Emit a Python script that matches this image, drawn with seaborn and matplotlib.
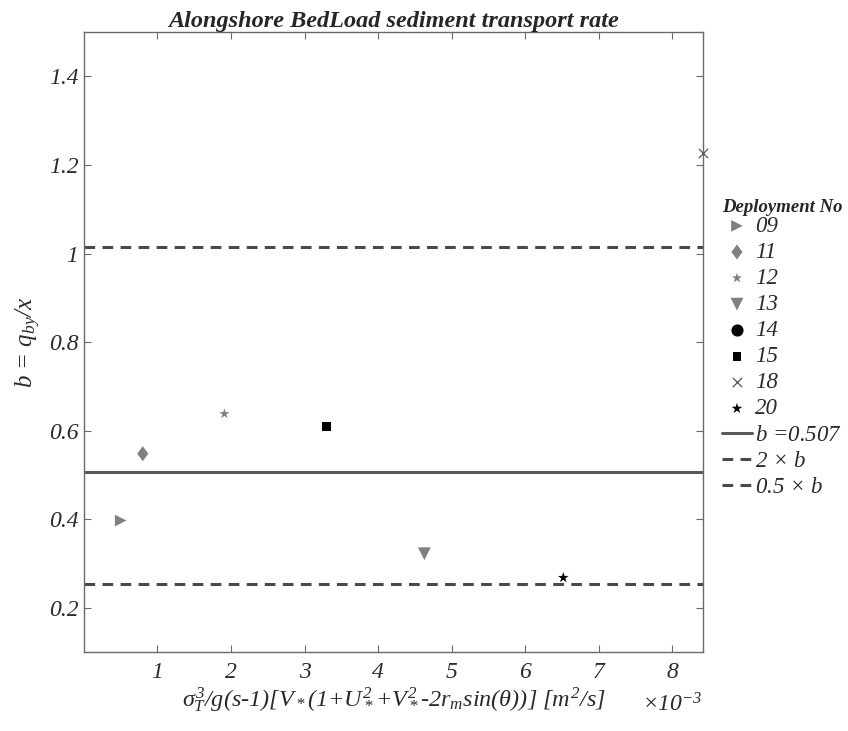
import matplotlib

matplotlib.use("Agg")

import numpy as np
import matplotlib.pyplot as plt
from matplotlib.ticker import FuncFormatter
import seaborn as sns

# Deployment data (x in m^2/s, y = b = q_by / x)
deployments = ["09", "11", "12", "13", "14", "15", "18", "20"]
x_vals = [0.50e-3, 0.80e-3, 1.91e-3, 4.63e-3, np.nan, 3.30e-3, 8.42e-3, 6.52e-3]
b_vals = [0.397, 0.548, 0.638, 0.322, np.nan, 0.609, 1.227, 0.268]

b_fit = 0.507
x_ticks = [1, 2, 3, 4, 5, 6, 7, 8]
y_ticks = [0.2, 0.4, 0.6, 0.8, 1.0, 1.2, 1.4]

# marker styling per deployment
diamond = [(0, 1), (0.75, 0), (0, -1), (-0.75, 0), (0, 1)]
markers = [">", diamond, "*", "v", "o", "s", "x", "*"]
colors = ["#808080", "#808080", "#808080", "#808080", "black", "black", "#555555", "black"]
sizes = [70, 115, 60, 85, 60, 38, 45, 65]

sns.set_style("ticks")
plt.rcParams["font.family"] = ["Liberation Serif", "DejaVu Serif"]
plt.rcParams["font.style"] = "italic"
plt.rcParams["mathtext.fontset"] = "custom"
plt.rcParams["mathtext.rm"] = "Liberation Serif:italic"
plt.rcParams["mathtext.it"] = "Liberation Serif:italic"
plt.rcParams["mathtext.bf"] = "Liberation Serif:bold:italic"

txt = "#2a2a2a"

fig = plt.figure(figsize=(8.48, 7.31), dpi=100)
ax = fig.add_axes([0.099, 0.108, 0.730, 0.848])

for name, xv, yv, m, c, s in zip(deployments, x_vals, b_vals, markers, colors, sizes):
    if np.isnan(xv):
        # no point inside the plotted range, but it is still listed in the legend
        ax.scatter([xv], [yv], marker=m, s=s, color=c, label=name)
        continue
    is_x = m == "x"
    sns.scatterplot(x=[xv], y=[yv], marker=m, s=s, color=c, edgecolor=c if is_x else "none",
                    linewidth=0.9 if is_x else 0, ax=ax, label=name, zorder=3, clip_on=False)

dash = (0, (3.5, 2.4))
ax.axhline(b_fit, color="#5a5a5a", lw=2.2, label=r"$b$ =0.507")
ax.axhline(2 * b_fit, color="#4a4a4a", lw=2.2, ls=dash, label=r"2 $\times$ $b$")
ax.axhline(0.5 * b_fit, color="#4a4a4a", lw=2.2, ls=dash, label=r"0.5 $\times$ $b$")

ax.set_xlim(0, 8.42e-3)
ax.set_ylim(0.1, 1.5)
ax.set_xticks([t * 1e-3 for t in x_ticks])
ax.set_yticks(y_ticks)
ax.xaxis.set_major_formatter(FuncFormatter(lambda v, p: f"{v * 1e3:g}"))
ax.yaxis.set_major_formatter(FuncFormatter(lambda v, p: f"{v:g}"))
ax.tick_params(direction="in", length=5, width=0.8, colors="#6a6a6a", labelcolor=txt,
               labelsize=17, top=True, right=True)
ax.tick_params(axis="x", pad=7)
ax.tick_params(axis="y", pad=4)

for sp in ax.spines.values():
    sp.set_visible(True)
    sp.set_color("#6a6a6a")
    sp.set_linewidth(1.0)

ax.set_title("Alongshore BedLoad sediment transport rate", fontsize=17.5, fontweight="bold",
             fontstyle="italic", pad=4)
ax.set_xlabel(r"$\sigma_T^3$/g(s-1)[$V_*$(1+$U_*^2$+$V_*^2$-2$r_m$sin($\theta$))] [$m^2$/s]",
              fontsize=17.5, color=txt, labelpad=2)
ax.set_ylabel(r"$b$ = $q_{by}$/$x$", fontsize=18, color=txt, labelpad=4)
ax.text(1.0, -0.066, r"$\times$10$^{-3}$", transform=ax.transAxes, fontsize=17, color=txt,
        ha="right", va="top")

leg = ax.legend(loc="center left", bbox_to_anchor=(1.016, 0.49), frameon=False, fontsize=16.5,
                title="Deployment No", handlelength=1.3, handletextpad=0.15, labelspacing=0.22,
                borderaxespad=0, markerscale=1.0)
leg.get_title().set_fontweight("bold")
leg.get_title().set_fontstyle("italic")
leg.get_title().set_fontsize(13.5)
leg._legend_box.align = "left"
leg._legend_box.sep = 0
for t in leg.get_texts():
    t.set_color(txt)

fig.savefig("out.png", dpi=100)
